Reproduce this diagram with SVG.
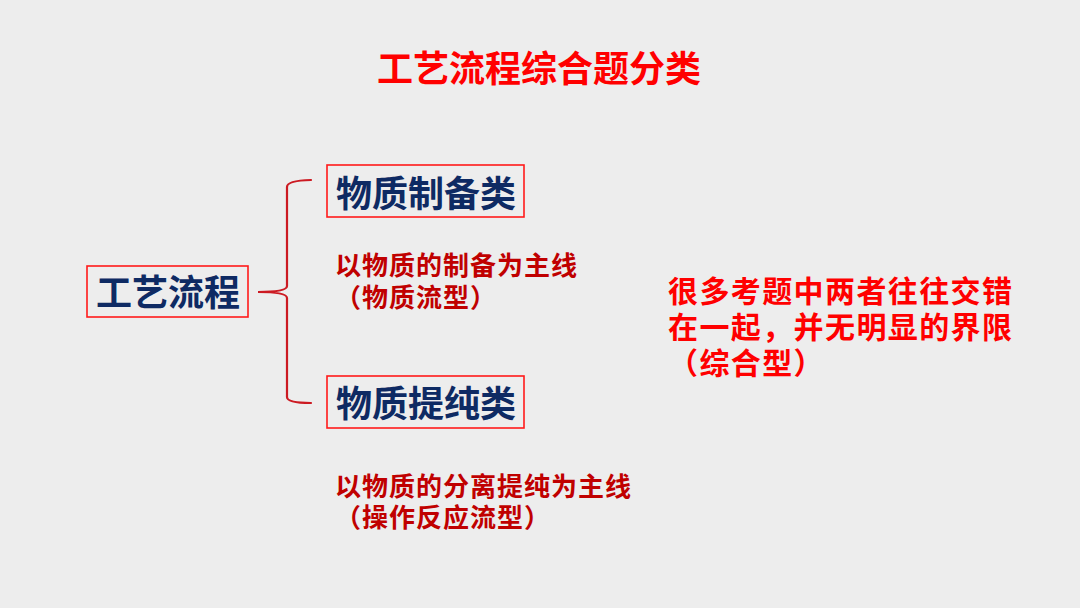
<svg xmlns="http://www.w3.org/2000/svg" width="1080" height="608" viewBox="0 0 1080 608">
<style>
text{font-family:"Microsoft YaHei","Noto Sans CJK SC",sans-serif;font-weight:bold}
.node{font-size:36px;fill:#0e2a63}
.box{fill:none;stroke:#ff1a1a;stroke-width:1.6}
.lbl{font-size:26px;fill:#c00000;letter-spacing:1px}
.title{font-size:36px;fill:#ff0000}
.note{font-size:30px;fill:#ff0000;letter-spacing:1.4px}
.conn{fill:none;stroke:#cc1a22;stroke-width:2.2;stroke-linecap:round}
</style>
<rect width="1080" height="608" fill="#ededed"/>
<text class="title" x="377" y="82">工艺流程综合题分类</text>
<g id="connectors">
<path class="conn" d="M311,180 Q287,180.5 287,187 L287,286 Q287,292 258,292 Q287,292 287,298 L287,397 Q287,403 311,403"/>
</g>
<g id="node-gongyi">
<rect class="box" x="87" y="266" width="161" height="51"/>
<text class="node" x="96" y="306">工艺流程</text>
</g>
<g id="node-zhibei">
<rect class="box" x="327" y="165" width="197" height="52"/>
<text class="node" x="336" y="207">物质制备类</text>
</g>
<g id="node-tichun">
<rect class="box" x="327" y="376" width="197" height="52"/>
<text class="node" x="336" y="417">物质提纯类</text>
</g>
<g id="label-zhibei">
<text class="lbl" x="335" y="275">以物质的制备为主线</text>
<text class="lbl" x="335" y="307">（物质流型）</text>
</g>
<g id="label-tichun">
<text class="lbl" x="335" y="496">以物质的分离提纯为主线</text>
<text class="lbl" x="335" y="527">（操作反应流型）</text>
</g>
<g id="note">
<text class="note" x="668" y="302">很多考题中两者往往交错</text>
<text class="note" x="668" y="338">在一起，并无明显的界限</text>
<text class="note" x="668" y="374">（综合型）</text>
</g>
</svg>
